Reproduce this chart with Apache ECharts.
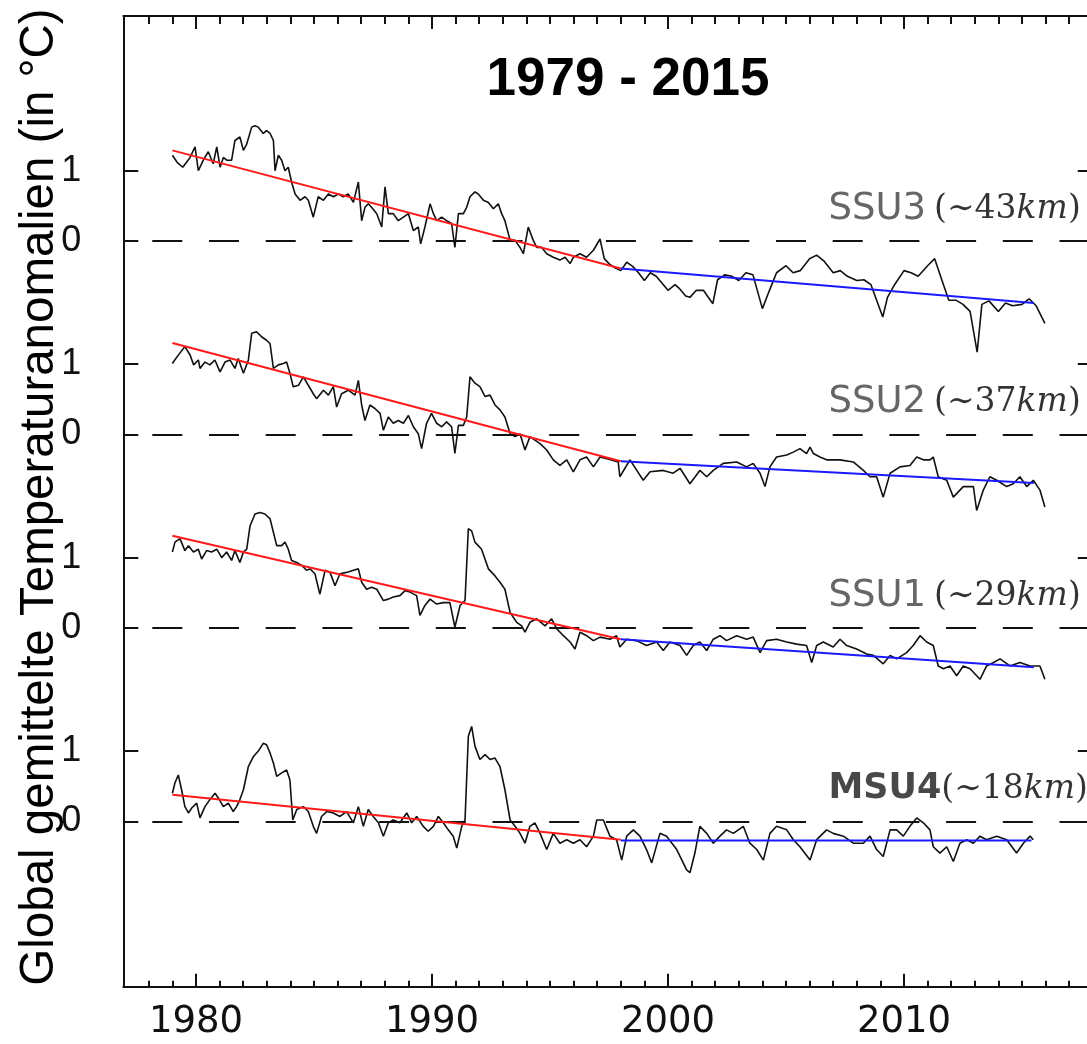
<!DOCTYPE html>
<html>
<head>
<meta charset="utf-8">
<title>Stratosphärische Temperaturanomalien 1979 - 2015</title>
<script src="https://cdn.jsdelivr.net/npm/echarts@6/dist/echarts.min.js"></script>
<style>
  html, body { margin: 0; padding: 0; background: #fff; overflow: hidden; }
  #chart { width: 1087px; height: 1044px; }
</style>
</head>
<body>
<div id="chart"></div>
<script>
// Channel names and approximate weighting-function peak heights (km)
const channels = ['SSU3', 'SSU2', 'SSU1', 'MSU4'];
const heights = ['43', '37', '29', '18'];

// Global mean anomalies (°C), [decimal year, anomaly]
const ssu3 = [
  [1979.0,1.22],[1979.2,1.12],[1979.44,1.05],[1979.6,1.12],[1979.75,1.19],[1979.96,1.34],[1980.1,1.0],[1980.31,1.15],
  [1980.52,1.27],[1980.73,1.1],[1980.88,1.34],[1981.02,1.05],[1981.16,1.19],[1981.3,1.15],[1981.51,1.15],[1981.65,1.43],
  [1981.86,1.48],[1982.01,1.29],[1982.15,1.38],[1982.36,1.62],[1982.5,1.64],[1982.64,1.62],[1982.85,1.53],[1982.99,1.57],
  [1983.14,1.53],[1983.28,1.43],[1983.35,1.0],[1983.49,1.22],[1983.63,1.15],[1983.77,1.0],[1983.91,1.05],[1984.05,0.84],
  [1984.2,0.67],[1984.41,0.58],[1984.62,0.63],[1984.76,0.58],[1984.97,0.34],[1985.18,0.63],[1985.4,0.58],[1985.61,0.67],
  [1985.82,0.63],[1986.03,0.67],[1986.24,0.63],[1986.45,0.67],[1986.67,0.55],[1986.88,0.84],[1987.02,0.29],[1987.16,0.48],
  [1987.3,0.53],[1987.44,0.48],[1987.66,0.39],[1987.87,0.2],[1988.01,0.77],[1988.15,0.39],[1988.36,0.39],[1988.57,0.29],
  [1988.79,0.34],[1989.0,0.39],[1989.21,0.15],[1989.42,0.2],[1989.52,-0.04],[1989.7,0.2],[1989.92,0.53],[1990.06,0.39],
  [1990.2,0.29],[1990.41,0.34],[1990.62,0.29],[1990.83,0.25],[1990.97,-0.09],[1991.12,0.39],[1991.33,0.39],[1991.47,0.48],
  [1991.61,0.63],[1991.82,0.7],[1991.96,0.67],[1992.18,0.58],[1992.39,0.55],[1992.6,0.46],[1992.81,0.53],[1992.95,0.39],
  [1993.09,0.29],[1993.31,0.01],[1993.52,0.01],[1993.73,-0.09],[1993.87,-0.18],[1994.08,0.2],[1994.29,0.01],[1994.44,-0.09],
  [1994.65,-0.09],[1994.86,-0.18],[1995.14,-0.23],[1995.42,-0.27],[1995.64,-0.23],[1995.85,-0.32],[1995.99,-0.23],[1996.27,-0.18],
  [1996.55,-0.23],[1996.84,-0.13],[1997.12,0.03],[1997.3,-0.25],[1997.5,-0.32],[1997.75,-0.38],[1998.0,-0.42],[1998.25,-0.3],
  [1998.5,-0.36],[1998.75,-0.45],[1999.0,-0.56],[1999.25,-0.45],[1999.5,-0.5],[1999.75,-0.6],[2000.0,-0.7],[2000.3,-0.62],
  [2000.5,-0.68],[2000.75,-0.78],[2000.93,-0.8],[2001.2,-0.7],[2001.5,-0.7],[2001.9,-0.89],[2002.1,-0.55],[2002.4,-0.48],
  [2002.7,-0.5],[2003.0,-0.56],[2003.3,-0.45],[2003.6,-0.48],[2004.0,-0.96],[2004.3,-0.7],[2004.6,-0.45],[2005.0,-0.35],
  [2005.3,-0.45],[2005.6,-0.42],[2006.0,-0.25],[2006.3,-0.2],[2006.6,-0.28],[2007.0,-0.45],[2007.3,-0.42],[2007.6,-0.5],
  [2008.0,-0.56],[2008.3,-0.55],[2008.6,-0.62],[2009.1,-1.08],[2009.3,-0.8],[2009.6,-0.62],[2010.0,-0.42],[2010.3,-0.45],
  [2010.6,-0.5],[2011.0,-0.35],[2011.3,-0.25],[2011.6,-0.55],[2011.9,-0.84],[2012.2,-0.84],[2012.5,-0.9],[2012.8,-1.0],
  [2013.1,-1.58],[2013.3,-0.9],[2013.6,-0.85],[2014.0,-1.0],[2014.3,-0.88],[2014.6,-0.92],[2015.0,-0.9],[2015.3,-0.82],
  [2015.6,-0.92],[2015.97,-1.17]
];

const ssu2 = [
  [1979.0,1.01],[1979.1,1.06],[1979.3,1.15],[1979.53,1.25],[1979.75,1.13],[1979.9,0.99],[1980.1,1.06],[1980.17,0.94],
  [1980.38,1.03],[1980.59,0.99],[1980.8,1.06],[1981.02,0.89],[1981.23,1.03],[1981.44,1.06],[1981.65,0.94],[1981.79,1.08],
  [1982.01,0.87],[1982.22,1.06],[1982.36,1.44],[1982.57,1.46],[1982.78,1.39],[1982.99,1.34],[1983.14,1.29],[1983.28,0.94],
  [1983.49,0.99],[1983.7,1.01],[1983.84,1.03],[1983.98,0.87],[1984.12,0.68],[1984.34,0.7],[1984.55,0.82],[1984.97,0.58],
  [1985.11,0.51],[1985.4,0.63],[1985.61,0.56],[1985.82,0.68],[1985.96,0.39],[1986.17,0.58],[1986.45,0.63],[1986.74,0.56],
  [1986.88,0.77],[1987.02,0.42],[1987.16,0.2],[1987.37,0.42],[1987.58,0.37],[1987.8,0.3],[1987.94,0.06],[1988.15,0.25],
  [1988.36,0.16],[1988.57,0.2],[1988.79,0.16],[1989.0,0.27],[1989.21,0.11],[1989.42,0.01],[1989.56,-0.2],[1989.77,0.16],
  [1989.98,0.3],[1990.2,0.16],[1990.41,0.11],[1990.62,0.18],[1990.83,0.11],[1990.97,-0.27],[1991.12,0.13],[1991.33,0.13],
  [1991.47,0.25],[1991.61,0.82],[1991.82,0.73],[1992.03,0.68],[1992.25,0.54],[1992.46,0.56],[1992.67,0.42],[1992.88,0.35],
  [1993.09,0.25],[1993.31,0.01],[1993.52,-0.03],[1993.73,0.01],[1993.94,-0.22],[1994.15,-0.03],[1994.36,-0.08],[1994.58,-0.13],
  [1994.86,-0.22],[1995.14,-0.36],[1995.42,-0.44],[1995.71,-0.36],[1995.99,-0.53],[1996.27,-0.36],[1996.55,-0.32],[1996.84,-0.46],
  [1997.12,-0.32],[1997.5,-0.35],[1997.89,-0.39],[1997.96,-0.6],[1998.39,-0.36],[1998.95,-0.65],[1999.24,-0.53],[1999.8,-0.51],
  [2000.22,-0.55],[2000.51,-0.48],[2000.93,-0.7],[2001.35,-0.51],[2001.64,-0.6],[2001.92,-0.51],[2002.34,-0.41],[2002.91,-0.39],
  [2003.33,-0.46],[2003.61,-0.41],[2003.9,-0.55],[2004.11,-0.74],[2004.32,-0.46],[2004.6,-0.32],[2005.03,-0.29],[2005.31,-0.25],
  [2005.59,-0.2],[2005.87,-0.27],[2006.02,-0.18],[2006.16,-0.27],[2006.44,-0.32],[2006.72,-0.36],[2007.29,-0.36],[2007.85,-0.39],
  [2008.28,-0.51],[2008.56,-0.6],[2008.84,-0.6],[2009.12,-0.89],[2009.41,-0.55],[2009.83,-0.46],[2010.25,-0.44],[2010.54,-0.32],
  [2010.82,-0.36],[2011.1,-0.36],[2011.24,-0.32],[2011.45,-0.6],[2011.81,-0.65],[2012.09,-0.89],[2012.51,-0.74],[2012.94,-0.74],
  [2013.08,-1.08],[2013.36,-0.79],[2013.64,-0.6],[2013.93,-0.65],[2014.35,-0.74],[2014.63,-0.7],[2014.91,-0.6],[2015.2,-0.74],
  [2015.48,-0.65],[2015.76,-0.79],[2015.97,-1.03]
];

const ssu1 = [
  [1979.0,1.08],[1979.11,1.22],[1979.32,1.27],[1979.53,1.1],[1979.68,1.17],[1979.89,1.08],[1980.1,1.12],[1980.24,0.98],
  [1980.45,1.1],[1980.66,1.08],[1980.88,1.12],[1981.09,1.0],[1981.3,1.08],[1981.51,0.96],[1981.65,1.1],[1981.86,0.93],
  [1982.01,1.08],[1982.15,1.12],[1982.29,1.45],[1982.5,1.62],[1982.71,1.64],[1982.92,1.62],[1983.14,1.55],[1983.28,1.36],
  [1983.42,1.17],[1983.63,1.17],[1983.77,1.22],[1983.91,1.12],[1984.05,0.96],[1984.27,0.93],[1984.48,0.89],[1984.69,0.82],
  [1984.83,0.84],[1985.04,0.77],[1985.25,0.48],[1985.47,0.82],[1985.68,0.79],[1985.89,0.6],[1986.1,0.77],[1986.38,0.79],
  [1986.67,0.82],[1986.88,0.84],[1987.02,0.65],[1987.23,0.55],[1987.44,0.58],[1987.66,0.55],[1987.94,0.39],[1988.15,0.41],
  [1988.36,0.44],[1988.64,0.46],[1988.86,0.53],[1989.07,0.51],[1989.35,0.46],[1989.49,0.18],[1989.7,0.32],[1989.92,0.41],
  [1990.2,0.34],[1990.48,0.36],[1990.76,0.36],[1990.97,0.01],[1991.19,0.32],[1991.4,0.39],[1991.54,1.41],[1991.68,1.38],
  [1991.82,1.22],[1992.1,1.12],[1992.39,0.84],[1992.67,0.74],[1992.88,0.65],[1993.09,0.55],[1993.31,0.22],[1993.59,0.08],
  [1993.8,0.03],[1993.94,-0.06],[1994.15,0.08],[1994.44,0.13],[1994.79,0.03],[1995.07,0.13],[1995.28,-0.01],[1995.57,-0.11],
  [1995.85,-0.2],[1996.06,-0.3],[1996.27,-0.06],[1996.55,-0.11],[1996.84,-0.18],[1997.12,-0.13],[1997.54,-0.16],[1997.82,-0.11],
  [1997.96,-0.27],[1998.25,-0.16],[1998.67,-0.18],[1999.09,-0.25],[1999.52,-0.2],[1999.8,-0.32],[2000.08,-0.2],[2000.51,-0.25],
  [2000.79,-0.39],[2001.07,-0.25],[2001.35,-0.2],[2001.64,-0.32],[2001.92,-0.16],[2002.2,-0.11],[2002.48,-0.18],[2002.91,-0.11],
  [2003.33,-0.16],[2003.61,-0.13],[2003.9,-0.35],[2004.18,-0.18],[2004.6,-0.16],[2005.03,-0.2],[2005.45,-0.23],[2005.87,-0.25],
  [2006.09,-0.49],[2006.3,-0.25],[2006.58,-0.2],[2007.0,-0.27],[2007.29,-0.16],[2007.57,-0.25],[2007.99,-0.3],[2008.42,-0.37],
  [2008.7,-0.39],[2009.12,-0.51],[2009.41,-0.39],[2009.69,-0.44],[2010.11,-0.35],[2010.39,-0.25],[2010.68,-0.11],[2010.96,-0.2],
  [2011.24,-0.25],[2011.45,-0.54],[2011.67,-0.58],[2011.95,-0.54],[2012.23,-0.68],[2012.51,-0.54],[2012.8,-0.58],[2013.22,-0.73],
  [2013.5,-0.54],[2013.79,-0.49],[2014.07,-0.44],[2014.49,-0.54],[2014.91,-0.49],[2015.34,-0.54],[2015.76,-0.54],[2015.97,-0.73]
];

const msu4 = [
  [1979.0,0.4],[1979.11,0.55],[1979.25,0.66],[1979.39,0.45],[1979.53,0.21],[1979.68,0.12],[1979.82,0.19],[1980.03,0.26],
  [1980.17,0.05],[1980.38,0.21],[1980.59,0.31],[1980.81,0.4],[1980.95,0.33],[1981.16,0.21],[1981.37,0.26],[1981.58,0.14],
  [1981.72,0.21],[1981.86,0.31],[1982.01,0.45],[1982.22,0.78],[1982.43,0.92],[1982.64,1.0],[1982.85,1.11],[1982.99,1.09],
  [1983.14,0.97],[1983.28,0.83],[1983.42,0.64],[1983.63,0.69],[1983.84,0.73],[1983.98,0.59],[1984.1,0.02],[1984.27,0.17],
  [1984.55,0.21],[1984.76,0.14],[1984.97,-0.07],[1985.11,-0.17],[1985.32,0.07],[1985.54,0.14],[1985.82,0.12],[1986.1,0.07],
  [1986.38,0.14],[1986.67,-0.02],[1986.88,0.21],[1987.09,-0.07],[1987.3,0.17],[1987.51,0.07],[1987.73,-0.02],[1987.94,-0.21],
  [1988.15,-0.02],[1988.36,0.02],[1988.64,-0.02],[1988.93,0.12],[1989.14,-0.02],[1989.35,0.07],[1989.63,-0.07],[1989.84,-0.14],
  [1990.06,-0.07],[1990.27,0.07],[1990.48,-0.02],[1990.69,-0.12],[1990.9,-0.21],[1991.05,-0.38],[1991.26,-0.07],[1991.4,0.02],
  [1991.54,1.21],[1991.68,1.35],[1991.82,1.07],[1992.03,0.88],[1992.25,0.95],[1992.46,0.88],[1992.67,0.9],[1992.88,0.78],
  [1993.09,0.45],[1993.31,0.02],[1993.52,-0.07],[1993.73,-0.17],[1993.94,-0.31],[1994.15,-0.07],[1994.36,-0.02],[1994.58,-0.17],
  [1994.86,-0.4],[1995.14,-0.17],[1995.42,-0.31],[1995.71,-0.26],[1995.99,-0.31],[1996.27,-0.26],[1996.55,-0.36],[1996.84,-0.21],
  [1996.98,0.02],[1997.26,0.02],[1997.54,-0.21],[1997.82,-0.26],[1998.04,-0.55],[1998.25,-0.21],[1998.53,-0.12],[1998.81,-0.21],
  [1999.09,-0.4],[1999.31,-0.59],[1999.66,-0.17],[1999.94,-0.21],[2000.37,-0.4],[2000.79,-0.69],[2000.93,-0.73],[2001.14,-0.45],
  [2001.35,-0.07],[2001.64,-0.17],[2001.92,-0.31],[2002.2,-0.21],[2002.48,-0.12],[2002.77,-0.17],[2003.19,-0.07],[2003.47,-0.31],
  [2003.76,-0.4],[2004.04,-0.55],[2004.32,-0.17],[2004.6,-0.07],[2005.03,-0.12],[2005.31,-0.26],[2005.59,-0.36],[2006.02,-0.55],
  [2006.3,-0.26],[2006.72,-0.12],[2007.0,-0.17],[2007.43,-0.21],[2007.85,-0.31],[2008.28,-0.31],[2008.56,-0.21],[2008.84,-0.4],
  [2009.12,-0.5],[2009.41,-0.12],[2009.69,-0.12],[2009.97,-0.21],[2010.25,-0.07],[2010.54,0.05],[2010.82,-0.02],[2011.1,-0.12],
  [2011.24,-0.36],[2011.52,-0.45],[2011.81,-0.36],[2012.09,-0.57],[2012.37,-0.31],[2012.66,-0.26],[2012.94,-0.31],[2013.22,-0.21],
  [2013.5,-0.26],[2013.93,-0.21],[2014.35,-0.26],[2014.77,-0.45],[2015.06,-0.31],[2015.34,-0.21],[2015.48,-0.26]
];

// Piecewise linear trends: 1979-1998 (red) and 1998-end (blue)
const trendStartYear = 1979.0;
const trendBreakYear = 1998.0;
const trendEndYear = [2015.5, 2015.5, 2015.5, 2015.4];
const earlyTrendStart = [1.29, 1.30, 1.31, 0.38];
const earlyTrendEnd = [-0.39, -0.38, -0.16, -0.26];
const lateTrendStart = [-0.39, -0.38, -0.16, -0.27];
const lateTrendEnd = [-0.88, -0.69, -0.56, -0.27];

// Axis ticks
const yearLabels = [1980, 1990, 2000, 2010];
const yearTicks = [];
for (let y = 1978; y <= 2017; y++) yearTicks.push(y);

// Vertical stacking of the four panels (each panel's own 0 sits at this level)
const panelBase = [8.25, 5.5, 2.75, 0];
const series4 = [ssu3, ssu2, ssu1, msu4];
const X_MIN = 1976.92, X_MAX = 2018.0;
const Y_MIN = -2.35, Y_MAX = 11.45;

const yTickValues = [];
panelBase.forEach(b => { yTickValues.push(b, b + 1); });

const chart = echarts.init(document.getElementById('chart'), null, { renderer: 'canvas' });

const series = [];
channels.forEach((name, i) => {
  const base = panelBase[i];
  series.push({
    name: name,
    type: 'line',
    xAxisIndex: 0, yAxisIndex: 0,
    data: series4[i].map(p => [p[0], p[1] + base]),
    symbol: 'none',
    lineStyle: { color: '#111', width: 1.6 },
    z: 2,
    markLine: {
      silent: true,
      symbol: 'none',
      label: { show: false },
      lineStyle: { color: '#111', width: 2, type: [30, 26.7], dashOffset: 27.7 },
      data: [{ yAxis: base }],
      z: 1
    }
  });
  series.push({
    name: name + ' Trend 1979-1998',
    type: 'line',
    data: [[trendStartYear, earlyTrendStart[i] + base], [trendBreakYear, earlyTrendEnd[i] + base]],
    symbol: 'none',
    lineStyle: { color: '#ff1a1a', width: 2 },
    z: 3
  });
  series.push({
    name: name + ' Trend 1998-2015',
    type: 'line',
    data: [[trendBreakYear, lateTrendStart[i] + base], [trendEndYear[i], lateTrendEnd[i] + base]],
    symbol: 'none',
    lineStyle: { color: '#1a1aff', width: 2 },
    z: 3
  });
  const bold = name === 'MSU4';
  series.push({
    name: name + ' label',
    type: 'scatter',
    data: [[2006.78, base + 0.455]],
    symbolSize: 1,
    itemStyle: { color: 'rgba(0,0,0,0)' },
    silent: true,
    z: 4,
    label: {
      show: true,
      position: 'right',
      distance: 0,
      formatter: '{s|' + name + '}{o|(∼' + heights[i] + '}{k|km}{c|)}',
      rich: {
        s: { fontFamily: 'DejaVu Sans', fontSize: bold ? 35 : 37, color: bold ? '#1a1a1a' : '#404040', fontWeight: bold ? 'bold' : 'normal' },
        o: { fontFamily: 'DejaVu Serif', fontSize: 33, color: '#000', padding: [0, 0, 0, bold ? 0 : 8] },
        k: { fontFamily: 'DejaVu Serif', fontSize: 33, fontStyle: 'italic', color: '#000' },
        c: { fontFamily: 'DejaVu Serif', fontSize: 33, color: '#000' }
      }
    }
  });
});

function xAxisDef(position, ticks, len, labels, showLine) {
  return {
    type: 'value', min: X_MIN, max: X_MAX, position: position,
    axisLine: { show: showLine, onZero: false, lineStyle: { color: '#111', width: 2 } },
    axisTick: { show: true, inside: true, length: len, customValues: ticks, lineStyle: { color: '#111', width: 2 } },
    axisLabel: labels
      ? { show: true, customValues: yearLabels, formatter: v => String(Math.round(v)), fontFamily: 'DejaVu Sans', fontSize: 37, color: '#111', margin: 17 }
      : { show: false },
    splitLine: { show: false }
  };
}

function yAxisDef(position, showLabels) {
  return {
    type: 'value', min: Y_MIN, max: Y_MAX, position: position,
    axisLine: { show: true, onZero: false, lineStyle: { color: '#111', width: 2 } },
    axisTick: { show: true, inside: true, length: 15, customValues: yTickValues, lineStyle: { color: '#111', width: 2 } },
    axisLabel: showLabels ? {
      show: true, customValues: yTickValues, fontFamily: 'Liberation Sans', fontSize: 36, color: '#111', margin: 42,
      formatter: v => String(Math.round(v - panelBase.reduce((a, b) => (Math.abs(v - b) < Math.abs(v - a) ? b : a))))
    } : { show: false },
    splitLine: { show: false }
  };
}

chart.setOption({
  animation: false,
  backgroundColor: '#fff',
  grid: { left: 123.3, right: -5.8, top: 16, bottom: 57.3, containLabel: false, outerBoundsMode: 'none' },
  xAxis: [
    xAxisDef('bottom', yearLabels, 13, true, true),
    xAxisDef('bottom', yearTicks, 6, false, false),
    xAxisDef('top', yearLabels, 13, false, true),
    xAxisDef('top', yearTicks, 8, false, false)
  ],
  yAxis: [yAxisDef('left', true), yAxisDef('right', false)],
  graphic: [
    {
      type: 'text', x: 628, y: 80, silent: true,
      style: { text: '1979 - 2015', fontFamily: 'Liberation Sans', fontWeight: 'bold', fontSize: 53, fill: '#000', align: 'center', verticalAlign: 'middle' }
    },
    {
      type: 'text', x: 40, y: 497, rotation: Math.PI / 2, silent: true,
      style: { text: 'Global gemittelte Temperaturanomalien (in °C)', fontFamily: 'Liberation Sans', fontSize: 47.5, fill: '#000', align: 'center', verticalAlign: 'middle' }
    }
  ],
  series: series
});
</script>
</body>
</html>
